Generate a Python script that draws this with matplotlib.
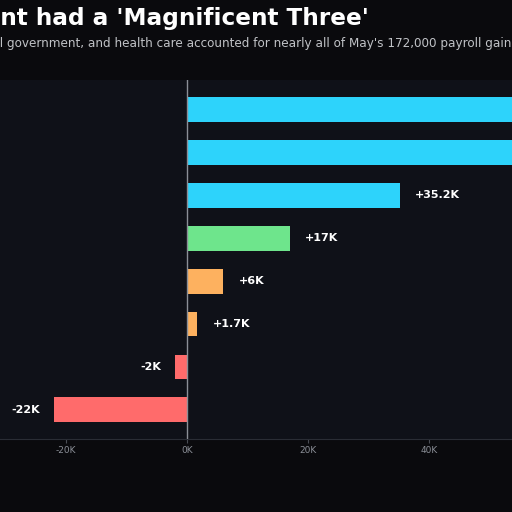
import matplotlib
matplotlib.use("Agg")
import matplotlib.pyplot as plt

# 데이터 (K 단위) - 위에서 아래 순서
sectors = [
    "Health care",
    "Government",
    "Leisure & hospitality",
    "Professional & business services",
    "Construction",
    "Financial activities",
    "Manufacturing",
    "Retail trade",
]
gains_k = [68.0, 57.0, 35.2, 17.0, 6.0, 1.7, -2.0, -22.0]
gain_labels = ["+68K", "+57K", "+35.2K", "+17K", "+6K", "+1.7K", "-2K", "-22K"]
bar_colors = ["#2dd3fb", "#2dd3fb", "#2dd3fb", "#6ee58c",
              "#fdb15f", "#fdb15f", "#ff6b6b", "#ff6b6b"]
tick_vals = [-20, 0, 20, 40]
tick_labels = ["-20K", "0K", "20K", "40K"]

title = "Employment had a 'Magnificent Three'"
title_hidden = "Employme"
subtitle = ("Leisure & hospitality, local government, and health care accounted "
            "for nearly all of May's 172,000 payroll gains")
subtitle_hidden = "Leisure & hospitality, loca"

FIG_BG = "#0a0a0d"
AX_BG = "#0f1118"

fig = plt.figure(figsize=(5.12, 5.12), dpi=100, facecolor=FIG_BG)
ax = fig.add_axes([0.0, 1 - 439 / 512, 1.0, 359 / 512])
ax.set_facecolor(AX_BG)

y = list(range(len(sectors)))
ax.barh(y, gains_k, height=0.58, color=bar_colors, zorder=2)

for yi, v, lab in zip(y, gains_k, gain_labels):
    if v >= 0:
        ax.annotate(lab, (v, yi), xytext=(11, 0), textcoords="offset points",
                    ha="left", va="center", color="white", fontsize=8,
                    fontweight="bold")
    else:
        ax.annotate(lab, (v, yi), xytext=(-10, 0), textcoords="offset points",
                    ha="right", va="center", color="white", fontsize=8,
                    fontweight="bold")

ax.axvline(0, color="#8b8f97", lw=1.0, zorder=3)
ax.set_xlim(-30.9, 53.7)
ax.set_ylim(7.68, -0.69)

# 원본에서 카테고리 이름은 화면 밖이라 보이지 않음
ax.set_yticks(y)
ax.set_yticklabels([])
ax.set_xticks(tick_vals)
ax.set_xticklabels(tick_labels)
ax.tick_params(axis="x", colors="#4a4d55", length=3, width=0.8,
               labelcolor="#8b8f97", labelsize=6.5, pad=2)
ax.tick_params(axis="y", length=0)

for side in ["top", "right", "left"]:
    ax.spines[side].set_visible(False)
ax.spines["bottom"].set_color("#2a2d35")
ax.spines["bottom"].set_linewidth(0.8)

# 제목/부제: 왼쪽이 잘린 원본처럼 배치
fig.canvas.draw()
renderer = fig.canvas.get_renderer()


def hidden_width(txt, **kw):
    t = fig.text(0, 0, txt, **kw)
    w = t.get_window_extent(renderer).width
    t.remove()
    return w / fig.bbox.width


title_kw = dict(fontsize=16.7, fontweight="bold", color="white")
sub_kw = dict(fontsize=8.65, color="#c0c2c6")
fig.text(-hidden_width(title_hidden, **title_kw), 1 - 19 / 512, title,
         ha="left", va="center", **title_kw)
fig.text(-hidden_width(subtitle_hidden, **sub_kw), 1 - 43 / 512, subtitle,
         ha="left", va="center", **sub_kw)

fig.savefig("out.png", dpi=100, facecolor=FIG_BG)
